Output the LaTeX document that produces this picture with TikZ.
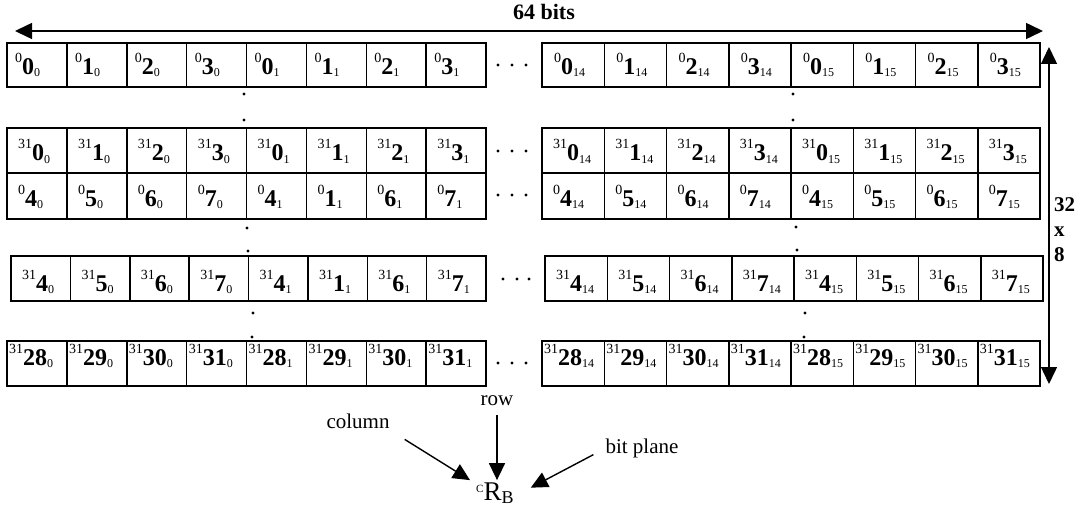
\documentclass[tikz,border=0pt]{standalone}
\usepackage{fontspec}
\setmainfont{Liberation Serif}
\usetikzlibrary{arrows.meta}

% one memory cell label: plane (superscript), row number (bold), column (subscript)
\newcommand{\bitlabel}[3]{%
  {\fontsize{14}{14}\selectfont\raisebox{12pt}{#1}}%
  {\fontsize{24}{24}\selectfont\bfseries #2}%
  {\fontsize{12}{12}\selectfont\raisebox{-2pt}{#3}}}

\begin{document}
\begin{tikzpicture}[x=1pt,y=-1pt,
  cellbox/.style={draw, line width=1.5pt, inner sep=0pt, outer sep=0pt, anchor=north west},
  celltext/.style={inner sep=0pt, anchor=base west},
  dimarrow/.style={line width=1.5pt, {Triangle[length=17pt,width=16pt]}-{Triangle[length=17pt,width=16pt]}},
  ptr/.style={line width=1.4pt, -{Triangle[length=17pt,width=16pt]}},
  plain/.style={inner sep=0pt, font=\fontsize{21}{21}\selectfont},
  dot/.style={fill=black}]
\useasboundingbox (0,0) rectangle (1080,508);

% the five rows of cells, left block (columns 0,1) and right block (columns 14,15)
\foreach \r/\top/\h/\lx/\lw/\rx/\s/\lb/\rb/\lin/\rin/\bl in {
  1/43/44/7/59.875/542/0/{0,1,2,3,0,1,2,3}/{0,1,2,3,0,1,2,3}/8/12/32,
  2/128/45/7/59.875/542/31/{0,1,2,3,0,1,2,3}/{0,1,2,3,0,1,2,3}/11/11/33,
  3/173/46/7/59.875/542/0/{4,5,6,7,4,1,6,7}/{4,5,6,7,4,5,6,7}/11/11/34,
  4/256/45/11/59.375/545/31/{4,5,6,7,4,1,6,7}/{4,5,6,7,4,5,6,7}/11/11/35,
  5/341/45/7/59.875/542/31/{28,29,30,31,28,29,30,31}/{28,29,30,31,28,29,30,31}/2/2/24}
{
  \foreach \d [count=\i from 0] in \lb {
    \pgfmathtruncatemacro\sub{int(\i/4)}
    \node[cellbox, minimum width=\lw pt, minimum height=\h pt] (L\r-\i) at ({\lx+\i*\lw},\top) {};
    \node[celltext] (LT\r-\i) at ({\lx+\i*\lw+\lin},{\top+\bl}) {\bitlabel{\s}{\d}{\sub}};
  }
  \foreach \d [count=\i from 0] in \rb {
    \pgfmathtruncatemacro\sub{14+int(\i/4)}
    \node[cellbox, minimum width=62.25pt, minimum height=\h pt] (R\r-\i) at ({\rx+\i*62.25},\top) {};
    \node[celltext] (RT\r-\i) at ({\rx+\i*62.25+\rin},{\top+\bl}) {\bitlabel{\s}{\d}{\sub}};
  }
}

% horizontal ellipses between the two blocks
\foreach \y in {65,151,195,363} {
  \foreach \x in {498,512,526} \fill[dot] (\x,\y) circle (1.6);
}
\foreach \x in {503,517,529} \fill[dot] (\x,279) circle (1.6);

% vertical ellipses between rows
\foreach \x/\y in {244/94, 244/120, 793/94, 793/120,
                   247/228, 248/251, 796/227, 797/250,
                   253/313, 252/337, 805/313, 804/337}
  \fill[dot] (\x,\y) circle (1.6);

% overall width
\coordinate (wL) at (15,31);
\coordinate (wR) at (1043,31);
\draw[dimarrow] (wL) -- (wR);
\node[inner sep=0pt, anchor=base, font=\fontsize{22}{22}\selectfont\bfseries] (widthlbl) at (544,20) {64 bits};

% overall height
\coordinate (hT) at (1049,47);
\coordinate (hB) at (1049,384);
\draw[dimarrow] (hT) -- (hB);
\node[inner sep=0pt, anchor=north west, align=left, font=\fontsize{21}{25}\selectfont\bfseries] (heightlbl) at (1054,197) {32\\x\\8};

% address legend
\node[plain, anchor=base] (rowlbl) at (497,405) {row};
\node[plain, anchor=base] (collbl) at (358,428) {column};
\node[plain, anchor=base] (bitlbl) at (642,453) {bit plane};
\node[inner sep=0pt, anchor=base west] (crb) at (476,500)
  {{\fontsize{11}{11}\selectfont\raisebox{8pt}{C}}{\fontsize{27}{27}\selectfont R}{\fontsize{18}{18}\selectfont\raisebox{-3pt}{B}}};

\draw[ptr] ([yshift=-10pt]rowlbl.south) -- ([yshift=2pt]rowlbl.south |- crb.north);
\draw[ptr] ([xshift=15pt,yshift=-11pt]collbl.south east) -- ([xshift=-6pt,yshift=2pt]crb.north west);
\draw[ptr] ([xshift=-12pt,yshift=3pt]bitlbl.south west) -- ([xshift=17pt,yshift=5pt]crb.east);
\end{tikzpicture}
\end{document}
